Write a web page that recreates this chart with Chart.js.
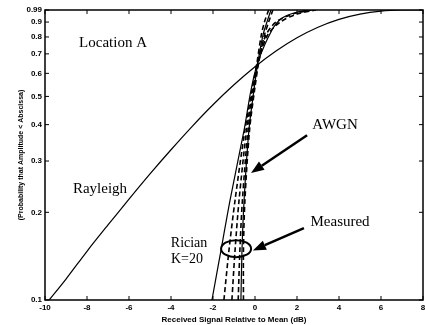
<!DOCTYPE html>
<html>
<head>
<meta charset="utf-8">
<script src="https://cdn.jsdelivr.net/npm/chart.js@4.4.0/dist/chart.umd.min.js"></script>
<style>
    html, body { margin: 0; padding: 0; background: #fff; }
    #wrap { width: 425px; height: 325px; }
</style>
</head>
<body>
<div id="wrap"><canvas id="cdf"></canvas></div>
<script>
// Signal level distribution, location A

const xTicks = [-10, -8, -6, -4, -2, 0, 2, 4, 6, 8];
const yTicks = [0.1, 0.2, 0.3, 0.4, 0.5, 0.6, 0.7, 0.8, 0.9, 0.99];
const yTickLabels = ['0.1', '0.2', '0.3', '0.4', '0.5', '0.6', '0.7', '0.8', '0.9', '0.99'];

// Rayleigh
const rayleighDb = [-9.8, -9, -8, -7, -6, -5, -4, -3, -2, -1, 0, 1, 2, 3, 4, 5, 6, 7, 8];
const rayleighP = [0.1, 0.118, 0.147, 0.181, 0.222, 0.271, 0.328, 0.394, 0.468, 0.548, 0.632, 0.716, 0.795, 0.864, 0.919, 0.958, 0.981, 0.99, 0.99];

// Rician K=20
const ricianDb = [-2.05, -1.62, -1.19, -0.52, -0.19, 0.14, 0.81, 1.29, 2.0, 2.57];
const ricianP = [0.1, 0.148, 0.22, 0.383, 0.526, 0.656, 0.845, 0.929, 0.974, 0.99];

// AWGN
const awgnDb = [-0.67, -0.62, -0.52, -0.29, -0.05, 0.14, 0.38, 0.57, 0.76];
const awgnP = [0.1, 0.148, 0.22, 0.383, 0.526, 0.656, 0.812, 0.9, 0.99];

// Measured runs (dashed)
const meas1Db = [-1.48, -1.24, -0.95, -0.48, -0.14, 0.12, 0.52, 1.0, 1.8, 2.7];
const meas1P = [0.1, 0.148, 0.22, 0.383, 0.526, 0.656, 0.812, 0.9, 0.959, 0.99];
const meas2Db = [-1.1, -0.95, -0.76, -0.4, -0.1, 0.1, 0.3, 0.45, 0.65];
const meas2P = [0.1, 0.148, 0.22, 0.383, 0.526, 0.656, 0.812, 0.9, 0.99];
const meas3Db = [-0.8, -0.72, -0.6, -0.33, -0.07, 0.16, 0.6, 1.2, 2.0, 2.9];
const meas3P = [0.1, 0.148, 0.22, 0.383, 0.526, 0.656, 0.812, 0.9, 0.959, 0.99];
const meas4Db = [-0.55, -0.55, -0.48, -0.26, -0.02, 0.18, 0.45, 0.65, 0.85];
const meas4P = [0.1, 0.148, 0.22, 0.383, 0.526, 0.656, 0.812, 0.9, 0.99];

// annotations, in data units
const notes = [
    { text: 'Location A', x: -6.76, y: 0.762, size: 15 },
    { text: 'Rayleigh', x: -7.38, y: 0.24, size: 15 },
    { text: 'AWGN', x: 3.81, y: 0.398, size: 15 },
    { text: 'Measured', x: 4.05, y: 0.185, size: 15 },
    { text: 'Rician', x: -3.14, y: 0.1567, size: 14 },
    { text: 'K=20', x: -3.24, y: 0.138, size: 14 },
];
const arrows = [
    { x0: 2.48, y0: 0.368, x1: -0.19, y1: 0.273 },
    { x0: 2.33, y0: 0.1764, x1: -0.10, y1: 0.148 },
];
const ring = { x: -0.9, y: 0.15 };

function pts(xs, ys) {
    return xs.map((v, i) => ({ x: v, y: ys[i] }));
}

function line(label, xs, ys, dashed) {
    return {
        label: label,
        data: pts(xs, ys),
        showLine: true,
        borderColor: '#000',
        borderWidth: dashed ? 1.6 : 1.2,
        borderDash: dashed ? [5, 3] : [],
        pointRadius: 0,
        tension: 0.3,
        fill: false
    };
}

const frame = {
    id: 'frame',
    afterDatasetsDraw(chart) {
        const { ctx, chartArea: a, scales: { x, y } } = chart;
        ctx.save();
        ctx.strokeStyle = '#000';
        ctx.lineWidth = 1.5;
        ctx.strokeRect(a.left, a.top, a.right - a.left, a.bottom - a.top);
        ctx.lineWidth = 1;
        ctx.beginPath();
        xTicks.forEach(v => {
            const px = x.getPixelForValue(v);
            ctx.moveTo(px, a.bottom); ctx.lineTo(px, a.bottom - 4);
            ctx.moveTo(px, a.top); ctx.lineTo(px, a.top + 4);
        });
        yTicks.forEach(v => {
            const py = y.getPixelForValue(v);
            ctx.moveTo(a.left, py); ctx.lineTo(a.left + 4, py);
            ctx.moveTo(a.right, py); ctx.lineTo(a.right - 4, py);
        });
        ctx.stroke();

        // labels
        ctx.fillStyle = '#000';
        ctx.textAlign = 'center';
        ctx.textBaseline = 'middle';
        notes.forEach(n => {
            ctx.font = n.size + 'px "Liberation Serif", "DejaVu Serif", serif';
            ctx.fillText(n.text, x.getPixelForValue(n.x), y.getPixelForValue(n.y));
        });

        // arrows
        ctx.lineWidth = 2.5;
        arrows.forEach(r => {
            const x0 = x.getPixelForValue(r.x0), y0 = y.getPixelForValue(r.y0);
            const x1 = x.getPixelForValue(r.x1), y1 = y.getPixelForValue(r.y1);
            const ang = Math.atan2(y1 - y0, x1 - x0);
            const hl = 13, hw = 5;
            const bx = x1 - hl * Math.cos(ang), by = y1 - hl * Math.sin(ang);
            ctx.beginPath();
            ctx.moveTo(x0, y0); ctx.lineTo(bx, by);
            ctx.stroke();
            ctx.beginPath();
            ctx.moveTo(x1, y1);
            ctx.lineTo(bx + hw * Math.sin(ang), by - hw * Math.cos(ang));
            ctx.lineTo(bx - hw * Math.sin(ang), by + hw * Math.cos(ang));
            ctx.closePath();
            ctx.fill();
        });

        // ellipse round the measured bundle
        ctx.lineWidth = 2;
        ctx.beginPath();
        ctx.ellipse(x.getPixelForValue(ring.x), y.getPixelForValue(ring.y), 15, 8.5, 0, 0, Math.PI * 2);
        ctx.stroke();
        ctx.restore();
    }
};

const tickFont = { family: '"Liberation Sans", Arial, sans-serif', size: 8, weight: 'bold' };

const config = {
    type: 'scatter',
    data: {
        datasets: [
            line('Rayleigh', rayleighDb, rayleighP, false),
            line('Rician K=20', ricianDb, ricianP, false),
            line('AWGN', awgnDb, awgnP, false),
            line('Measured 1', meas1Db, meas1P, true),
            line('Measured 2', meas2Db, meas2P, true),
            line('Measured 3', meas3Db, meas3P, true),
            line('Measured 4', meas4Db, meas4P, true),
        ]
    },
    options: {
        responsive: true,
        maintainAspectRatio: false,
        animation: false,
        layout: { padding: { top: 10, right: 2, left: 0, bottom: 0 } },
        plugins: {
            legend: { display: false },
            tooltip: { enabled: false }
        },
        scales: {
            x: {
                type: 'linear',
                min: -10,
                max: 8,
                grid: { display: false, drawTicks: false },
                border: { display: false },
                afterBuildTicks: s => { s.ticks = xTicks.map(v => ({ value: v })); },
                ticks: { color: '#000', font: tickFont, padding: 3, maxRotation: 0 },
                title: {
                    display: true,
                    text: 'Received Signal Relative to Mean (dB)',
                    color: '#000',
                    font: tickFont,
                    padding: { top: 0, bottom: 0 }
                },
                afterFit: s => { s.height = 25; s.paddingLeft = 0; s.paddingRight = 0; }
            },
            y: {
                type: 'logarithmic',
                min: 0.1,
                max: 0.99,
                grid: { display: false, drawTicks: false },
                border: { display: false },
                afterBuildTicks: s => { s.ticks = yTicks.map(v => ({ value: v })); },
                ticks: {
                    color: '#000',
                    font: tickFont,
                    padding: 3,
                    autoSkip: false,
                    callback: v => yTickLabels[yTicks.indexOf(v)]
                },
                title: {
                    display: true,
                    text: '(Probability that Amplitude < Abscissa)',
                    color: '#000',
                    font: { family: '"Liberation Sans", Arial, sans-serif', size: 7, weight: 'bold' },
                    padding: { top: 17, bottom: 0 }
                },
                afterFit: s => { s.width = 45; s.paddingTop = 0; s.paddingBottom = 0; }
            }
        }
    },
    plugins: [frame]
};

const cdfChart = new Chart(document.getElementById('cdf'), config);
</script>
</body>
</html>
